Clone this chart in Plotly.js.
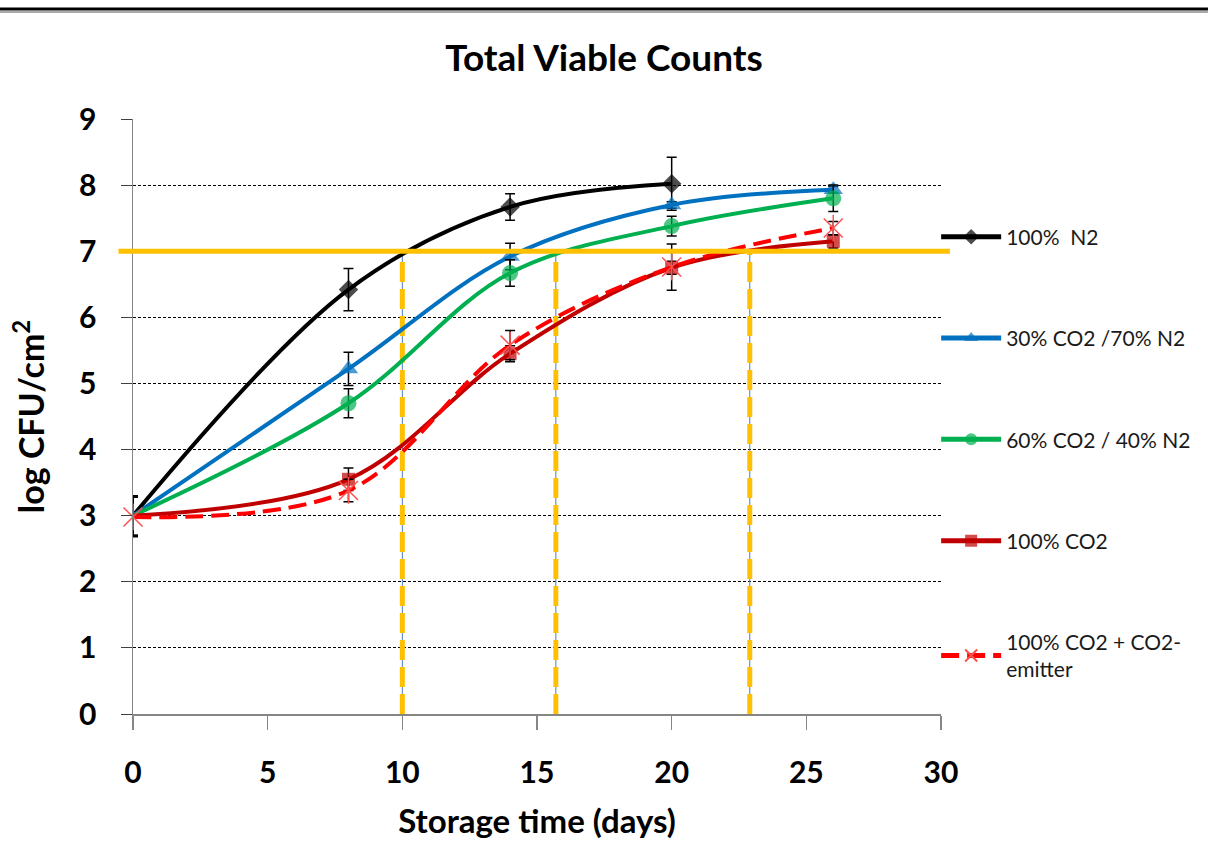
<!DOCTYPE html>
<html><head><meta charset="utf-8">
<script src="https://cdn.plot.ly/plotly-3.0.1.min.js"></script>
<style>html,body{margin:0;padding:0;background:#fff}#chart{width:1208px;height:864px}</style>
</head><body><div id="chart"></div>
<script>
// ---- data ----
const days = [0, 8, 14, 20, 26];
const daysN2 = [0, 8, 14, 20];
const n2 = [3.0, 6.42, 7.67, 8.02];
const n2Err = [0.3, 0.32, 0.2, 0.4];
const co2_30 = [3.0, 5.22, 6.92, 7.70, 7.93];
const co2_30Err = [0.3, 0.25, 0.2, 0.05, 0.05];
const co2_60 = [3.0, 4.70, 6.67, 7.38, 7.80];
const co2_60Err = [0.3, 0.22, 0.2, 0.15, 0.2];
const co2_100 = [3.0, 3.55, 5.45, 6.75, 7.15];
const co2_100Err = [0.3, 0.17, 0.12, 0.1, 0.1];
const emitter = [2.98, 3.38, 5.58, 6.76, 7.35];
const emitterErr = [0.3, 0.17, 0.22, 0.35, 0.1];
const seriesNames = ['100%  N2', '30% CO2 /70% N2', '60% CO2 / 40% N2', '100% CO2', '100% CO2 + CO2-<br>emitter'];
const thresholdLevel = 7;
const thresholdDays = [10, 15.7, 22.9];

const F = "Lato, 'Open Sans', sans-serif";
const YEL = '#FFC000';

function series(i, x, y, err, color, symbol, size, dash) {
  return {
    type: 'scatter', mode: 'lines+markers', name: seriesNames[i], legendgroup: 'g' + i,
    x: x, y: y, cliponaxis: false,
    line: {color: color, width: 4, shape: 'spline', smoothing: 1, dash: dash || 'solid'},
    marker: {symbol: symbol, color: color, size: x.map(d => d === 0 ? 0 : size),
             line: {color: color, width: 0}},
    error_y: {type: 'data', array: err, visible: true, color: '#000', thickness: 1.5, width: 5}
  };
}

const traces = [
  series(0, daysN2, n2, n2Err, '#000000', 'diamond', 15),
  series(1, days, co2_30, co2_30Err, '#0070C0', 'triangle-up', 17),
  series(2, days, co2_60, co2_60Err, '#00B050', 'circle', 16),
  series(3, days, co2_100, co2_100Err, '#C00000', 'square', 13),
  {
    type: 'scatter', mode: 'lines+markers', name: seriesNames[4], legendgroup: 'g4',
    x: days, y: emitter, cliponaxis: false,
    line: {color: '#FF0000', width: 4, shape: 'spline', smoothing: 1, dash: '18px,8px'},
    marker: {symbol: 'x-thin-open', size: 19, color: '#FF5050', line: {color: '#FF5050', width: 1.5}},
    error_y: {type: 'data', array: emitterErr, visible: true, color: '#000', thickness: 1.5, width: 5}
  },
  {
    type: 'scatter', mode: 'markers', showlegend: false, hoverinfo: 'skip', legendgroup: 'g4',
    x: days, y: emitter, cliponaxis: false,
    marker: {symbol: 'line-ns-open', size: 19, color: '#FF5050', line: {color: '#FF5050', width: 1.5}}
  }
];

const shapes = [
  {type: 'line', xref: 'paper', yref: 'paper', x0: -0.1646, x1: 1.3304, y0: 1.1849, y1: 1.1849,
   line: {color: '#000', width: 3}, layer: 'above'},
  {type: 'line', xref: 'paper', yref: 'paper', x0: -0.1646, x1: 1.3304, y0: 1.1798, y1: 1.1798,
   line: {color: '#aaaaaa', width: 2}, layer: 'above'}
];
thresholdDays.forEach(d => {
  shapes.push({type: 'line', xref: 'x', yref: 'y', x0: d, x1: d, y0: 0, y1: thresholdLevel,
    line: {color: '#4A7EBB', width: 1}, layer: 'between'});
  shapes.push({type: 'line', xref: 'x', yref: 'y', x0: d, x1: d, y0: 0, y1: thresholdLevel,
    line: {color: YEL, width: 5, dash: '20px,7px'}, layer: 'between'});
});
shapes.push({type: 'line', xref: 'paper', yref: 'y', x0: -0.018, x1: 1.011, y0: thresholdLevel, y1: thresholdLevel,
   line: {color: YEL, width: 5}, layer: 'above'});

const layout = {
  width: 1208, height: 864,
  margin: {l: 133, r: 267, t: 119, b: 150, pad: 0},
  paper_bgcolor: '#fff', plot_bgcolor: '#fff',
  font: {family: F, color: '#000'},
  showlegend: true,
  title: {text: 'Total Viable Counts', font: {size: 37, weight: 700, family: F},
          x: 0.5, xref: 'container', xanchor: 'center', y: 1 - 58 / 864, yref: 'container', yanchor: 'middle'},
  xaxis: {range: [0, 30], tick0: 0, dtick: 5, showgrid: false, zeroline: false,
          showline: true, linecolor: '#868686', linewidth: 1.5,
          ticks: 'outside', ticklen: 14, tickcolor: '#868686', tickwidth: 1.5,
          ticklabelstandoff: 17, tickfont: {size: 30, weight: 700, family: F},
          title: {text: 'Storage time (days)', font: {size: 33, weight: 700, family: F}, standoff: 22}},
  yaxis: {range: [0, 9], tick0: 0, dtick: 1, showgrid: true, gridcolor: '#000', gridwidth: 1,
          griddash: '3px,2px', zeroline: false,
          showline: true, linecolor: '#868686', linewidth: 1.5,
          ticks: 'outside', ticklen: 11, tickcolor: '#404040', tickwidth: 1,
          ticklabelstandoff: 18, tickfont: {size: 30, weight: 700, family: F},
          title: {text: 'log CFU/cm<sup>2</sup>', font: {size: 34, weight: 700, family: F}, standoff: 24}},
  legend: {x: 0.994, xanchor: 'left', y: 0.836, yanchor: 'top', font: {size: 21, family: F, color: '#1a1a1a'},
           tracegroupgap: 71, bgcolor: 'rgba(0,0,0,0)', itemwidth: 60, itemsizing: 'constant'},
  shapes: shapes
};

Plotly.newPlot('chart', traces, layout, {displayModeBar: false, staticPlot: true});
</script>
</body></html>
